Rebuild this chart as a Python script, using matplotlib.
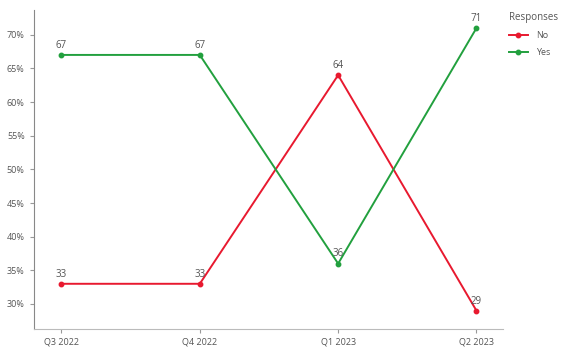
import matplotlib
matplotlib.use("Agg")
import matplotlib.pyplot as plt
from matplotlib.ticker import FuncFormatter

plt.rcParams["font.family"] = ["Open Sans", "DejaVu Sans"]

# ----------------- Data -----------------
quarters = ["Q3 2022", "Q4 2022", "Q1 2023", "Q2 2023"]
no_pct = [33, 33, 64, 29]
yes_pct = [67, 67, 36, 71]

colors = {"No": "#e8192f", "Yes": "#22a03e"}
text_gray = "#555555"

# ----------------- Plot -----------------
fig = plt.figure(figsize=(5.72, 3.51), dpi=100)
ax = fig.add_axes([0.059, 0.063, 0.82, 0.909])

x = list(range(len(quarters)))
for name, vals in [("No", no_pct), ("Yes", yes_pct)]:
    ax.plot(x, vals, color=colors[name], linewidth=1.4, marker="o",
            markersize=3.2, label=name)
    for xi, v in zip(x, vals):
        ax.annotate(str(v), (xi, v), xytext=(0, 3), textcoords="offset points",
                    ha="center", va="bottom", fontsize=7, color=text_gray)

ax.set_xlim(-0.2, 3.19)
ax.set_ylim(26.3, 73.7)
ax.set_xticks(x)
ax.set_xticklabels(quarters)
ax.set_yticks(range(30, 71, 5))
ax.yaxis.set_major_formatter(FuncFormatter(lambda v, _: f"{v:.0f}%"))

for side in ["top", "right"]:
    ax.spines[side].set_visible(False)
ax.spines["left"].set_color("#888888")
ax.spines["bottom"].set_color("#bbbbbb")
ax.tick_params(axis="both", labelsize=6.5, colors="#999999", labelcolor=text_gray,
               length=3, width=0.8)

# legend to the right of the plot area
leg = ax.legend(title="Responses", loc="upper left", bbox_to_anchor=(0.995, 1.02),
                frameon=False, fontsize=6.5, title_fontsize=7,
                handlelength=2.2, labelspacing=0.9, labelcolor=text_gray)
leg.get_title().set_color(text_gray)
leg._legend_box.align = "left"

fig.savefig("out.png", dpi=100)
